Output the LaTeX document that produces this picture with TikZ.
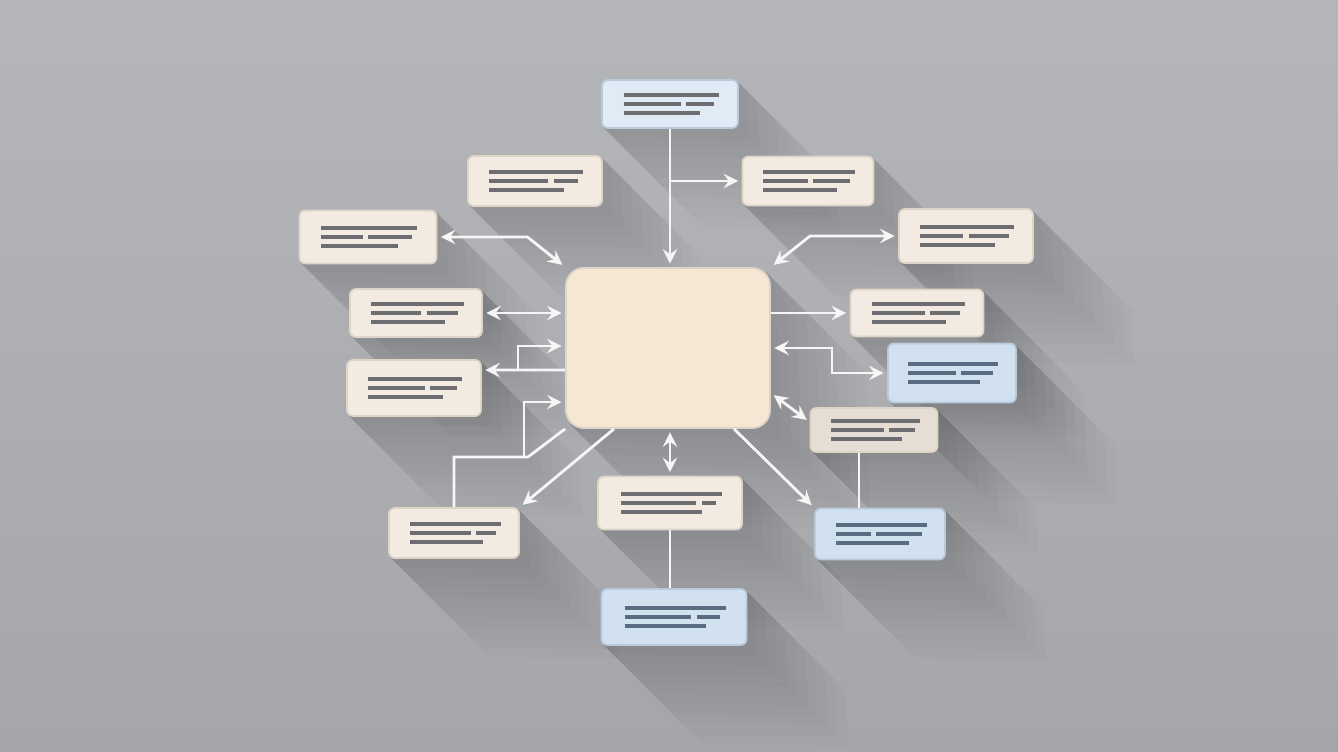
\documentclass[tikz,border=0pt]{standalone}
\usetikzlibrary{calc}
\pgfdeclarelayer{bg}
\pgfdeclarelayer{shade}
\pgfsetlayers{bg,shade,main}
\definecolor{bgtop}{RGB}{180,182,186}
\definecolor{bgbot}{RGB}{164,166,170}
\definecolor{cream}{RGB}{243,235,225}
\definecolor{creamline}{RGB}{222,212,199}
\definecolor{centre}{RGB}{246,231,212}
\definecolor{bluetop}{RGB}{224,235,245}
\definecolor{bluefill}{RGB}{210,225,239}
\definecolor{blueline}{RGB}{186,202,218}
\definecolor{taupe}{RGB}{230,222,212}
\definecolor{lineg}{RGB}{110,110,114}
\definecolor{lineb}{RGB}{90,108,130}
\definecolor{conn}{RGB}{246,246,246}
\tikzset{
  box/.style={draw=creamline, fill=cream, rounded corners=0.06cm, inner sep=0pt, line width=0.5pt},
  bluebox/.style={box, draw=blueline, fill=bluefill},
  con/.style={draw=conn, line width=0.8pt},
  arr/.style={con, ->, shorten >=1pt},
  darr/.style={con, <->, shorten >=1pt, shorten <=1pt},
  ph/.style={line width=0.95pt}
}
\begin{document}
\begin{tikzpicture}[>=stealth, x=0.01cm, y=-0.01cm]
\begin{pgfonlayer}{bg}
    \shade[top color=bgtop, bottom color=bgbot] (0,0) rectangle (1338,752);
\end{pgfonlayer}
\useasboundingbox (0,0) rectangle (1338,752);
% centre
    \node[box, fill=centre, rounded corners=0.18cm, minimum width=2.04cm, minimum height=1.6cm] (c) at (668,348) {};
% boxes round it
    \node[bluebox, fill=bluetop, minimum width=1.36cm, minimum height=0.48cm] (n1) at (670,104) {};
    \node[box, minimum width=1.31cm, minimum height=0.49cm] (n2) at (808,181) {};
    \node[box, minimum width=1.34cm, minimum height=0.5cm] (n3) at (535,181) {};
    \node[box, minimum width=1.37cm, minimum height=0.53cm] (n4) at (368,237) {};
    \node[box, minimum width=1.32cm, minimum height=0.48cm] (n5) at (416,313) {};
    \node[box, minimum width=1.34cm, minimum height=0.56cm] (n6) at (414,388) {};
    \node[box, minimum width=1.3cm, minimum height=0.5cm] (n7) at (454,533) {};
    \node[box, minimum width=1.44cm, minimum height=0.53cm] (n8) at (670,503) {};
    \node[bluebox, minimum width=1.45cm, minimum height=0.56cm] (n9) at (674,617) {};
    \node[bluebox, minimum width=1.3cm, minimum height=0.51cm] (n10) at (880,534) {};
    \node[box, fill=taupe, minimum width=1.27cm, minimum height=0.44cm] (n11) at (874,430) {};
    \node[bluebox, minimum width=1.28cm, minimum height=0.59cm] (n12) at (952,373) {};
    \node[box, minimum width=1.33cm, minimum height=0.47cm] (n13) at (917,313) {};
    \node[box, minimum width=1.34cm, minimum height=0.54cm] (n14) at (966,236) {};
% long shadows
\begin{pgfonlayer}{shade}
\foreach \n/\k in {c/5,n1/2,n2/2,n3/2,n4/2,n5/2,n6/2,n7/2,n8/2,n9/2,n10/2,n11/2,n12/2,n13/2,n14/2}
{
    \foreach \d in {10,20,...,100}
        \fill[black, opacity=0.016] ($(\n.north east)+(-\k,\k)$) -- ($(\n.north east)+(\d-\k,\d+\k)$) -- ($(\n.south east)+(\d,\d)$) -- ($(\n.south west)+(\d+\k,\d-\k)$) -- ($(\n.south west)+(\k,-\k)$) -- cycle;
}
\end{pgfonlayer}
% placeholder lines
\foreach \n/\w/\s/\col in {n1/136/0.1/lineg, n2/131/0.02/lineg, n3/134/0.12/lineg, n4/137/-0.02/lineg, n5/132/0.06/lineg, n6/134/0.1/lineg, n7/130/0.15/lineg, n8/144/0.2/lineg, n9/145/0.14/lineb, n10/130/-0.05/lineb, n11/127/0.1/lineg, n12/128/0.05/lineb, n13/133/0.08/lineg, n14/134/0.0/lineg}
{
    \draw[ph,\col] ($(\n)+({-0.34*\w},-9)$) -- ++({0.7*\w},0);
    \draw[ph,\col] ($(\n)+({-0.34*\w},0)$) -- ++({(\s+0.32)*\w},0);
    \draw[ph,\col] ($(\n)+({(\s+0.02)*\w},0)$) -- ($(\n)+({0.32*\w},0)$);
    \draw[ph,\col] ($(\n)+({-0.34*\w},9)$) -- ++({0.56*\w},0);
}
% connectors
    \coordinate (j6) at (518,370);
    \coordinate (j7) at (528,457);
    \coordinate (k7) at (524,457);
    \draw[arr] (n1.south) -- (c.north -| n1.south);
    \draw[arr] (n1.south |- n2.west) -- (n2.west);
    \draw[darr] (n4.east) -- ++(90,0) -- (c.north west);
    \draw[darr] (n5.east) -- (c.west |- n5.east);
    \draw[arr] ([yshift=-0.22cm]c.west) -- ([yshift=0.18cm]n6.east);
    \draw[arr] (j6) |- ([yshift=0.02cm]c.west);
    \draw[con] (n7.north) |- (j7) -- (c.south west);
    \draw[arr] (k7) |- ([yshift=-0.54cm]c.west);
    \draw[arr] ([xshift=-0.54cm]c.south) -- (n7.north east);
    \draw[darr] (c.south -| n8.north) -- (n8.north);
    \draw[con] (n8.south) -- (n9.north -| n8.south);
    \draw[arr] ([xshift=0.66cm]c.south) -- (n10.north west);
    \draw[con] ([xshift=-0.15cm]n11.south) -- ([xshift=-0.15cm]n11.south |- n10.north);
    \draw[darr] ([yshift=-0.45cm]c.east) -- ([yshift=0.08cm]n11.west);
    \draw[darr] (c.east) -- ++(61,0) |- (n12.west);
    \draw[arr] (c.east |- n13.west) -- (n13.west);
    \draw[darr] (n14.west) -- ++(-88,0) -- (c.north east);
\end{tikzpicture}
\end{document}
